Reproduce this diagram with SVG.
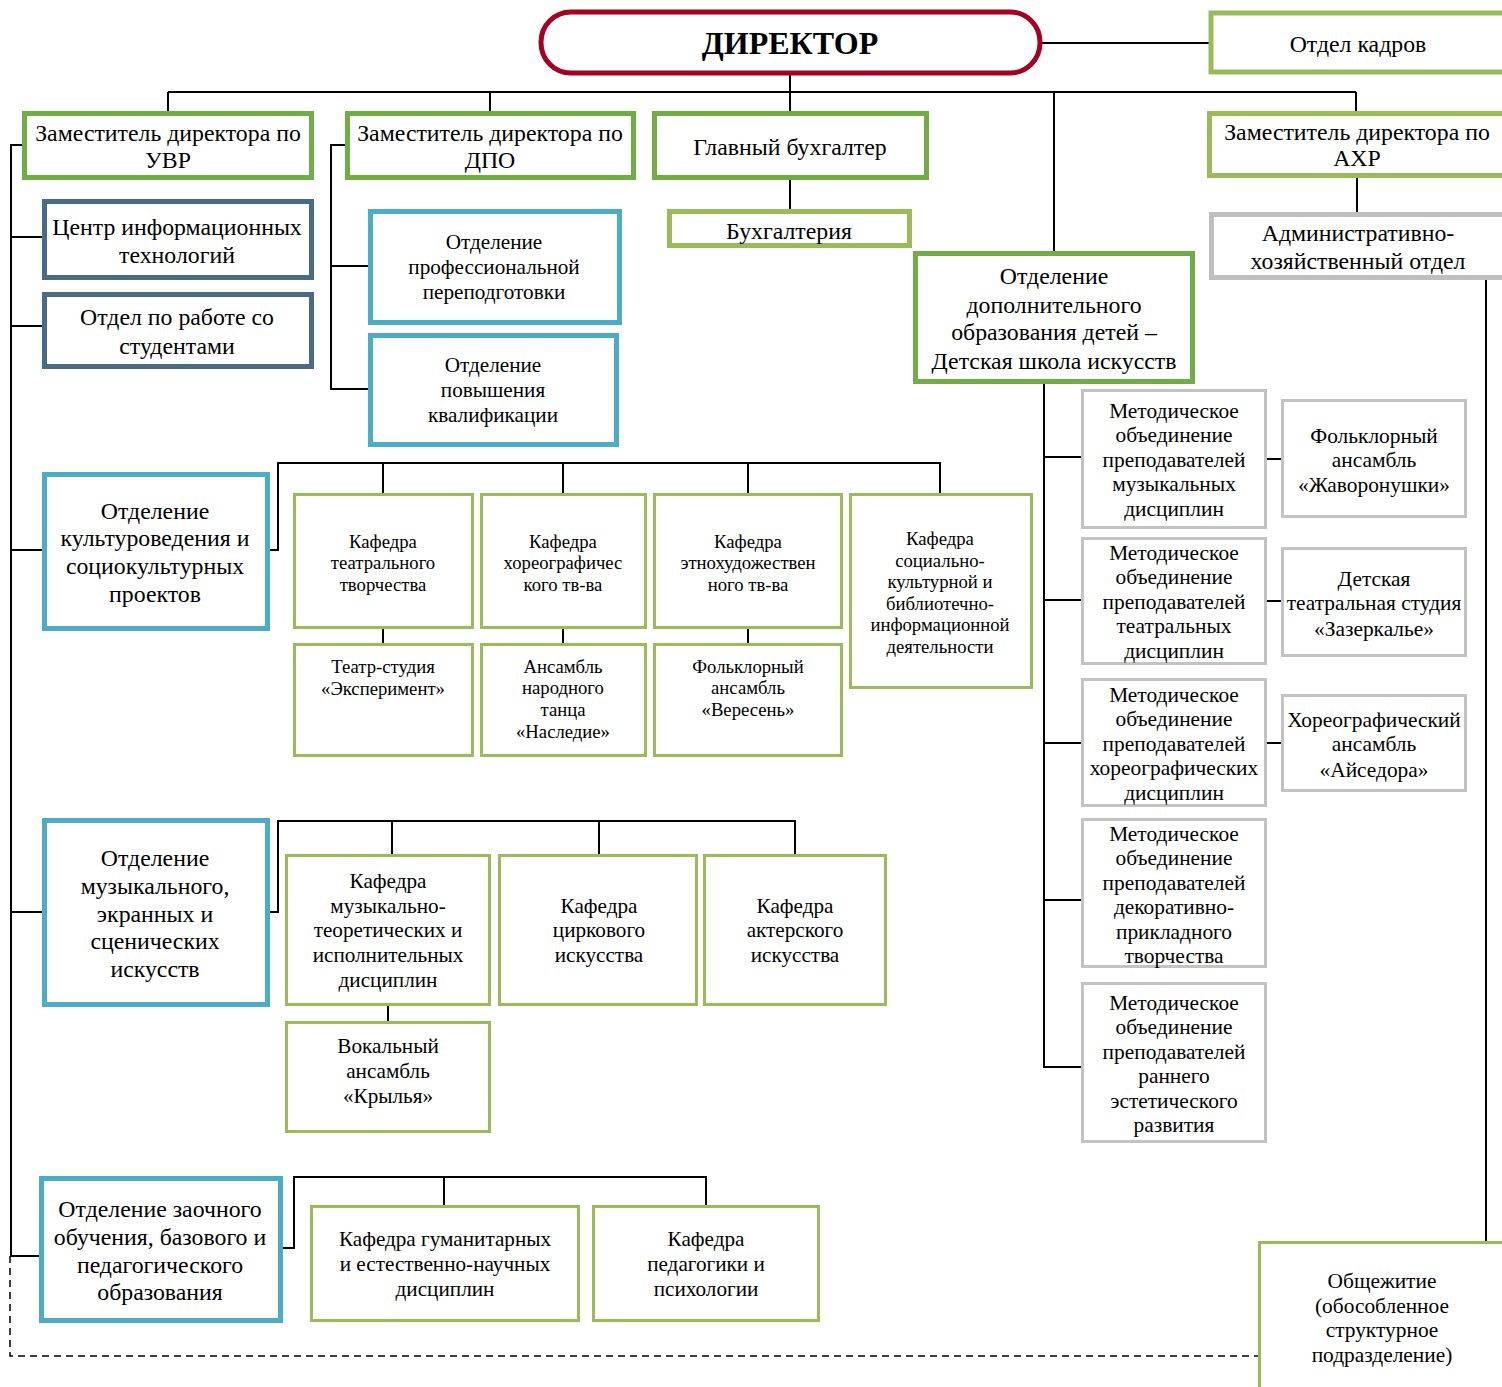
<svg xmlns="http://www.w3.org/2000/svg" width="1502" height="1387" viewBox="0 0 1502 1387">
<style>
text{font-family:"Liberation Serif","Times New Roman",serif;fill:#000;text-anchor:middle}
.f22{font-size:23.8px;transform:translateY(1px)}.f20{font-size:21.4px;transform:translateY(0.5px)}.f19{font-size:21.2px;transform:translateY(0.7px)}.f17{font-size:18.7px;transform:translateY(0.5px)}
.dir{font-size:32px;font-weight:bold}
rect{fill:#fff}
.red{stroke:#a50021;stroke-width:5}
.g1{stroke:#70ad47;stroke-width:5}
.g2{stroke:#9bbb59;stroke-width:5}
.g3{stroke:#9bbb59;stroke-width:3}
.bl{stroke:#4bacc6;stroke-width:5}
.sl{stroke:#4a6b84;stroke-width:5}
.gr{stroke:#bfbfbf;stroke-width:5}
.gr3{stroke:#c3c3c3;stroke-width:3}
.c{fill:none;stroke:#000;stroke-width:2}
.d{fill:none;stroke:#000;stroke-width:1.5;stroke-dasharray:7 5}
</style>
<g id="connectors">
<path class="c" d="M1040 43H1210M790 73V112M168 92H1356M168 92V112M490 92V112M1054 92V252M1356 92V112M790 178V210M1357 176V212M1486 278V1242"/>
<path class="c" d="M24 145H11V1256H40M11 237H43M11 326H43M11 550H43M11 912H43"/>
<path class="c" d="M347 145H331V389H370M331 266H370"/>
<path class="c" d="M1044 382V1067H1082M1044 457H1082M1044 600H1082M1044 743H1082M1044 900H1082M1266 459H1282M1266 601H1282M1266 743H1282"/>
<path class="c" d="M268 550H278V463H940V494M383 463V494M563 463V494M748 463V494M383 628V644M563 628V644M748 628V644"/>
<path class="c" d="M268 912H278V821H795V854M392 821V854M599 821V854M388 1005V1022"/>
<path class="c" d="M281 1248H294V1177H706V1206M444 1177V1206"/>
<path class="d" d="M10 1256V1356H1259"/>
</g>
<g id="director"><rect class="red" x="541" y="12" width="499" height="61" rx="30"/><text class="dir" x="790" y="54">ДИРЕКТОР</text></g>
<g id="kadry"><rect class="g2" x="1211" y="13" width="300" height="59"/><text class="f22" x="1358" y="51">Отдел кадров</text></g>
<g id="uvr"><rect class="g1" x="24.5" y="113.5" width="287" height="64"/><text class="f22"><tspan x="168" y="140">Заместитель директора по</tspan><tspan x="168" y="167">УВР</tspan></text></g>
<g id="dpo"><rect class="g1" x="347.5" y="113.5" width="286" height="64"/><text class="f22"><tspan x="490" y="140">Заместитель директора по</tspan><tspan x="490" y="167">ДПО</tspan></text></g>
<g id="glavbuh"><rect class="g1" x="654.5" y="113.5" width="272" height="64"/><text class="f22" x="790" y="154">Главный бухгалтер</text></g>
<g id="buh"><rect class="g2" x="669.5" y="211.5" width="240" height="34"/><text class="f22" x="789" y="238">Бухгалтерия</text></g>
<g id="ahr"><rect class="g2" x="1209.5" y="113.5" width="300" height="62"/><text class="f22"><tspan x="1357" y="139">Заместитель директора по</tspan><tspan x="1357" y="165">АХР</tspan></text></g>
<g id="aho"><rect class="gr" x="1211.5" y="214.5" width="300" height="63"/><text class="f22"><tspan x="1358" y="240">Административно-</tspan><tspan x="1358" y="268">хозяйственный отдел</tspan></text></g>
<g id="dshi"><rect class="g1" x="915.5" y="253.5" width="277" height="128"/><text class="f22"><tspan x="1054" y="283">Отделение</tspan><tspan x="1054" y="312">дополнительного</tspan><tspan x="1054" y="339">образования детей –</tspan><tspan x="1054" y="368">Детская школа искусств</tspan></text></g>
<g id="cit"><rect class="sl" x="44.5" y="201.5" width="267" height="76"/><text class="f22"><tspan x="177" y="234">Центр информационных</tspan><tspan x="177" y="262">технологий</tspan></text></g>
<g id="students"><rect class="sl" x="44.5" y="294.5" width="267" height="72"/><text class="f22"><tspan x="177" y="324">Отдел по работе со</tspan><tspan x="177" y="353">студентами</tspan></text></g>
<g id="perepodg"><rect class="bl" x="370.5" y="211.5" width="249" height="111"/><text class="f19"><tspan x="494" y="248">Отделение</tspan><tspan x="494" y="273">профессиональной</tspan><tspan x="494" y="298">переподготовки</tspan></text></g>
<g id="povysh"><rect class="bl" x="370.5" y="335.5" width="246" height="109"/><text class="f19"><tspan x="493" y="371">Отделение</tspan><tspan x="493" y="396">повышения</tspan><tspan x="493" y="421">квалификации</tspan></text></g>
<g id="kultur"><rect class="bl" x="44.5" y="474.5" width="223" height="154"/><text class="f22"><tspan x="155" y="518">Отделение</tspan><tspan x="155" y="545">культуроведения и</tspan><tspan x="155" y="573">социокультурных</tspan><tspan x="155" y="601">проектов</tspan></text></g>
<g id="kaf-teatr"><rect class="g3" x="294.5" y="494.5" width="178" height="133"/><text class="f17"><tspan x="383" y="547">Кафедра</tspan><tspan x="383" y="568">театрального</tspan><tspan x="383" y="590">творчества</tspan></text></g>
<g id="kaf-horeo"><rect class="g3" x="481.5" y="494.5" width="164" height="133"/><text class="f17"><tspan x="563" y="547">Кафедра</tspan><tspan x="563" y="568">хореографичес</tspan><tspan x="563" y="590">кого тв-ва</tspan></text></g>
<g id="kaf-etno"><rect class="g3" x="654.5" y="494.5" width="187" height="133"/><text class="f17"><tspan x="748" y="547">Кафедра</tspan><tspan x="748" y="568">этнохудожествен</tspan><tspan x="748" y="590">ного тв-ва</tspan></text></g>
<g id="kaf-soc"><rect class="g3" x="850.5" y="494.5" width="181" height="193"/><text class="f17"><tspan x="940" y="544">Кафедра</tspan><tspan x="940" y="566">социально-</tspan><tspan x="940" y="587">культурной и</tspan><tspan x="940" y="609">библиотечно-</tspan><tspan x="940" y="630">информационной</tspan><tspan x="940" y="652">деятельности</tspan></text></g>
<g id="eksperiment"><rect class="g3" x="294.5" y="644.5" width="178" height="111"/><text class="f17"><tspan x="383" y="672">Театр-студия</tspan><tspan x="383" y="694">«Эксперимент»</tspan></text></g>
<g id="nasledie"><rect class="g3" x="481.5" y="644.5" width="164" height="111"/><text class="f17"><tspan x="563" y="672">Ансамбль</tspan><tspan x="563" y="693">народного</tspan><tspan x="563" y="715">танца</tspan><tspan x="563" y="737">«Наследие»</tspan></text></g>
<g id="veresen"><rect class="g3" x="654.5" y="644.5" width="187" height="111"/><text class="f17"><tspan x="748" y="672">Фольклорный</tspan><tspan x="748" y="693">ансамбль</tspan><tspan x="748" y="715">«Вересень»</tspan></text></g>
<g id="muz"><rect class="bl" x="44.5" y="820.5" width="223" height="184"/><text class="f22"><tspan x="155" y="865">Отделение</tspan><tspan x="155" y="893">музыкального,</tspan><tspan x="155" y="921">экранных и</tspan><tspan x="155" y="948">сценических</tspan><tspan x="155" y="976">искусств</tspan></text></g>
<g id="kaf-muzteor"><rect class="g3" x="286.5" y="855.5" width="203" height="149"/><text class="f19"><tspan x="388" y="887">Кафедра</tspan><tspan x="388" y="912">музыкально-</tspan><tspan x="388" y="936">теоретических и</tspan><tspan x="388" y="961">исполнительных</tspan><tspan x="388" y="986">дисциплин</tspan></text></g>
<g id="kaf-cirk"><rect class="g3" x="499.5" y="855.5" width="197" height="149"/><text class="f19"><tspan x="599" y="912">Кафедра</tspan><tspan x="599" y="936">циркового</tspan><tspan x="599" y="961">искусства</tspan></text></g>
<g id="kaf-akter"><rect class="g3" x="704.5" y="855.5" width="181" height="149"/><text class="f19"><tspan x="795" y="912">Кафедра</tspan><tspan x="795" y="936">актерского</tspan><tspan x="795" y="961">искусства</tspan></text></g>
<g id="krylya"><rect class="g3" x="286.5" y="1022.5" width="203" height="109"/><text class="f19"><tspan x="388" y="1052">Вокальный</tspan><tspan x="388" y="1077">ансамбль</tspan><tspan x="388" y="1102">«Крылья»</tspan></text></g>
<g id="zaoch"><rect class="bl" x="41.5" y="1178.5" width="239" height="142"/><text class="f22"><tspan x="160" y="1216">Отделение заочного</tspan><tspan x="160" y="1244">обучения, базового и</tspan><tspan x="160" y="1272">педагогического</tspan><tspan x="160" y="1299">образования</tspan></text></g>
<g id="kaf-guman"><rect class="g3" x="311.5" y="1206.5" width="267" height="114"/><text class="f19"><tspan x="445" y="1245">Кафедра гуманитарных</tspan><tspan x="445" y="1270">и естественно-научных</tspan><tspan x="445" y="1295">дисциплин</tspan></text></g>
<g id="kaf-ped"><rect class="g3" x="593.5" y="1206.5" width="225" height="114"/><text class="f19"><tspan x="706" y="1245">Кафедра</tspan><tspan x="706" y="1270">педагогики и</tspan><tspan x="706" y="1295">психологии</tspan></text></g>
<g id="mo-muz"><rect class="gr3" x="1082.5" y="390.5" width="183" height="137"/><text class="f20"><tspan x="1174" y="417">Методическое</tspan><tspan x="1174" y="441">объединение</tspan><tspan x="1174" y="466">преподавателей</tspan><tspan x="1174" y="490">музыкальных</tspan><tspan x="1174" y="515">дисциплин</tspan></text></g>
<g id="mo-teatr"><rect class="gr3" x="1082.5" y="538.5" width="183" height="125"/><text class="f20"><tspan x="1174" y="559">Методическое</tspan><tspan x="1174" y="583">объединение</tspan><tspan x="1174" y="608">преподавателей</tspan><tspan x="1174" y="632">театральных</tspan><tspan x="1174" y="657">дисциплин</tspan></text></g>
<g id="mo-horeo"><rect class="gr3" x="1082.5" y="679.5" width="183" height="126"/><text class="f20"><tspan x="1174" y="701">Методическое</tspan><tspan x="1174" y="725">объединение</tspan><tspan x="1174" y="750">преподавателей</tspan><tspan x="1174" y="774">хореографических</tspan><tspan x="1174" y="799">дисциплин</tspan></text></g>
<g id="mo-dpi"><rect class="gr3" x="1082.5" y="819.5" width="183" height="147"/><text class="f20"><tspan x="1174" y="840">Методическое</tspan><tspan x="1174" y="864">объединение</tspan><tspan x="1174" y="889">преподавателей</tspan><tspan x="1174" y="913">декоративно-</tspan><tspan x="1174" y="938">прикладного</tspan><tspan x="1174" y="962">творчества</tspan></text></g>
<g id="mo-ranne"><rect class="gr3" x="1082.5" y="983.5" width="183" height="158"/><text class="f20"><tspan x="1174" y="1009">Методическое</tspan><tspan x="1174" y="1033">объединение</tspan><tspan x="1174" y="1058">преподавателей</tspan><tspan x="1174" y="1082">раннего</tspan><tspan x="1174" y="1107">эстетического</tspan><tspan x="1174" y="1131">развития</tspan></text></g>
<g id="zhavoronushki"><rect class="gr3" x="1282.5" y="400.5" width="183" height="116"/><text class="f20"><tspan x="1374" y="442">Фольклорный</tspan><tspan x="1374" y="466">ансамбль</tspan><tspan x="1374" y="491">«Жаворонушки»</tspan></text></g>
<g id="zazerkale"><rect class="gr3" x="1282.5" y="548.5" width="183" height="107"/><text class="f20"><tspan x="1374" y="585">Детская</tspan><tspan x="1374" y="609">театральная студия</tspan><tspan x="1374" y="635">«Зазеркалье»</tspan></text></g>
<g id="aisedora"><rect class="gr3" x="1282.5" y="695.5" width="183" height="95"/><text class="f20"><tspan x="1374" y="726">Хореографический</tspan><tspan x="1374" y="750">ансамбль</tspan><tspan x="1374" y="776">«Айседора»</tspan></text></g>
<g id="obshezhitie"><rect class="g3" x="1259.5" y="1242.5" width="260" height="160"/><text class="f20"><tspan x="1382" y="1287">Общежитие</tspan><tspan x="1382" y="1312">(обособленное</tspan><tspan x="1382" y="1336">структурное</tspan><tspan x="1382" y="1361">подразделение)</tspan></text></g>
</svg>
